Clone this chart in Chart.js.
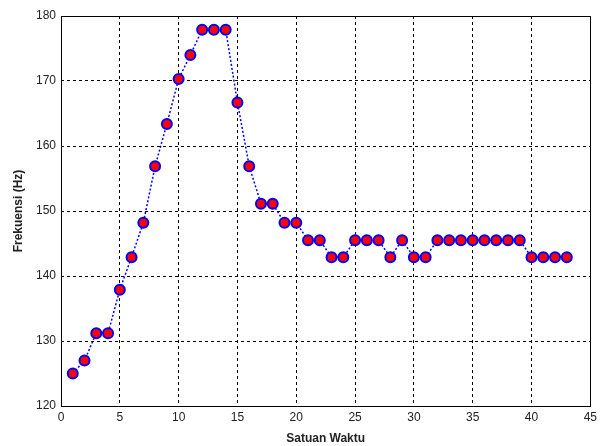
<!DOCTYPE html>
<html>
<head>
<meta charset="utf-8">
<script src="https://cdn.jsdelivr.net/npm/chart.js@4/dist/chart.umd.min.js"></script>
<style>
  html, body { margin: 0; padding: 0; background: #fff; }
</style>
</head>
<body>
<canvas id="myChart" width="601" height="446"></canvas>
<script>
// data
const waktu = [1, 2, 3, 4, 5, 6, 7, 8, 9, 10, 11, 12, 13, 14, 15, 16, 17, 18, 19, 20, 21, 22,
  23, 24, 25, 26, 27, 28, 29, 30, 31, 32, 33, 34, 35, 36, 37, 38, 39, 40, 41, 42, 43];
const frekuensi = [125.0, 127.0, 131.2, 131.2, 137.9, 142.9, 148.2, 156.9, 163.4, 170.3, 174.0,
  177.9, 177.9, 177.9, 166.7, 156.9, 151.1, 151.1, 148.2, 148.2, 145.5, 145.5,
  142.9, 142.9, 145.5, 145.5, 145.5, 142.9, 145.5, 142.9, 142.9, 145.5, 145.5,
  145.5, 145.5, 145.5, 145.5, 145.5, 145.5, 142.9, 142.9, 142.9, 142.9];
const xTicks = [0, 5, 10, 15, 20, 25, 30, 35, 40, 45];
const yTicks = [120, 130, 140, 150, 160, 170, 180];

const points = waktu.map((x, i) => ({ x: x, y: frekuensi[i] }));

// kotak hitam di sekeliling area plot
const frame = {
  id: 'frame',
  afterDraw(chart) {
    const a = chart.chartArea;
    const c = chart.ctx;
    c.save();
    c.strokeStyle = '#000';
    c.lineWidth = 1;
    c.setLineDash([]);
    c.strokeRect(Math.round(a.left) + 0.5, Math.round(a.top) + 0.5,
      Math.round(a.right - a.left), Math.round(a.bottom - a.top));
    c.restore();
  }
};

const font = { family: '"Liberation Sans", Arial, sans-serif', size: 12 };

const ctx = document.getElementById('myChart').getContext('2d');
const myChart = new Chart(ctx, {
  type: 'line',
  data: {
    datasets: [{
      data: points,
      borderColor: '#0000ff',
      borderWidth: 1.5,
      borderDash: [2, 2],
      backgroundColor: '#ff0000',
      pointBackgroundColor: '#ff0000',
      pointBorderColor: '#0000ff',
      pointBorderWidth: 2,
      pointRadius: 5,
      tension: 0,
      fill: false
    }]
  },
  plugins: [frame],
  options: {
    responsive: false,
    animation: false,
    layout: { padding: { left: 0, top: 16, right: 8, bottom: 0 } },
    plugins: { legend: { display: false }, tooltip: { enabled: false } },
    scales: {
      x: {
        type: 'linear',
        min: 0,
        max: 45,
        afterBuildTicks: (s) => { s.ticks = xTicks.map(v => ({ value: v })); },
        afterFit: (s) => { s.height = 40; },
        ticks: { font: font, color: '#222', padding: 4 },
        grid: { color: '#000', lineWidth: 1, drawTicks: false },
        border: { display: false, dash: [3, 3] },
        title: { display: true, text: 'Satuan Waktu', color: '#222',
          font: { family: font.family, size: 12, weight: 'bold' }, padding: { top: 2, bottom: 0 } }
      },
      y: {
        min: 120,
        max: 180,
        afterBuildTicks: (s) => { s.ticks = yTicks.map(v => ({ value: v })); },
        afterFit: (s) => { s.width = 61; },
        ticks: { font: font, color: '#222', padding: 5 },
        grid: { color: '#000', lineWidth: 1, drawTicks: false },
        border: { display: false, dash: [3, 3] },
        title: { display: true, text: 'Frekuensi (Hz)', color: '#222',
          font: { family: font.family, size: 12, weight: 'bold' }, padding: { top: 11, bottom: 4 } }
      }
    }
  }
});
</script>
</body>
</html>
